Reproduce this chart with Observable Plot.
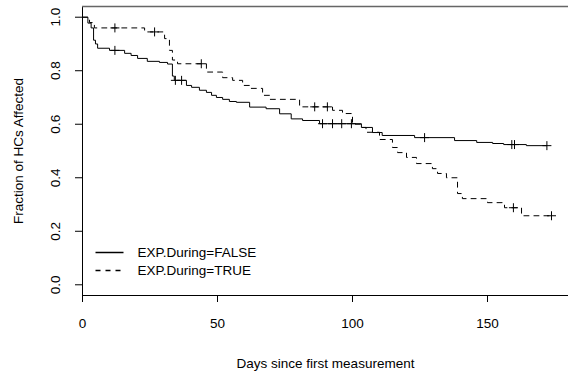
<!DOCTYPE html>
<html><head><meta charset="utf-8">
<script src="https://cdn.jsdelivr.net/npm/d3@7"></script>
<script src="https://cdn.jsdelivr.net/npm/@observablehq/plot@0.6"></script>
<style>
html,body{margin:0;padding:0;background:#fff;}
#chart svg{display:block;}
</style></head><body><div id="chart"></div>
<script>
// Kaplan–Meier step curves (time in days, survival fraction)
const falseTimes = [0, 2.0, 3.2, 4.1, 4.8, 5.6, 10, 15.6, 18, 20.4, 24, 28.5, 31.5, 33.3, 34, 38.5, 40.4, 43.3, 45.9, 47.8, 49.6, 51.9, 54.4, 57, 61.9, 68, 73, 77.3, 81.5, 87.8, 103.3, 107.4, 111, 123, 137.8, 146, 151.9, 156, 164.4, 172];
const falseSurv  = [1, 0.978, 0.96, 0.914, 0.90, 0.884, 0.876, 0.865, 0.857, 0.846, 0.835, 0.831, 0.825, 0.78, 0.764, 0.745, 0.738, 0.727, 0.719, 0.708, 0.70, 0.693, 0.685, 0.682, 0.664, 0.658, 0.639, 0.62, 0.614, 0.602, 0.588, 0.569, 0.558, 0.55, 0.539, 0.532, 0.528, 0.524, 0.52, 0.52];
const falseCensor = [12, 34.4, 36.7, 88.9, 92.6, 96, 99.6, 126.7, 159, 160, 172];

const trueTimes = [0, 2.6, 4.4, 23, 30.4, 32.2, 33.3, 35.2, 45.9, 51.9, 55.6, 59.3, 61.9, 66.7, 69.3, 80.4, 92.6, 96.3, 100, 103.3, 105, 110, 114.8, 116.7, 120, 123.7, 129.6, 131.5, 134.8, 138.9, 140.7, 150, 156.3, 162.6, 174];
const trueSurv  = [1, 0.98, 0.96, 0.945, 0.92, 0.876, 0.84, 0.826, 0.795, 0.774, 0.764, 0.745, 0.734, 0.708, 0.693, 0.665, 0.652, 0.64, 0.60, 0.588, 0.57, 0.543, 0.513, 0.494, 0.476, 0.453, 0.434, 0.416, 0.40, 0.341, 0.322, 0.307, 0.288, 0.258, 0.258];
const trueCensor = [12, 26.7, 44, 86, 90.7, 159.6, 173.7];

const seriesNames = ["EXP.During=FALSE", "EXP.During=TRUE"];
const xTicks = [0, 50, 100, 150];
const yTicks = [0, 0.2, 0.4, 0.6, 0.8, 1.0];
const xTitle = "Days since first measurement";
const yTitle = "Fraction of HCs Affected";

function stepValue(times, surv, t) {
  let v = surv[0];
  for (let i = 0; i < times.length; i++) if (times[i] <= t) v = surv[i];
  return v;
}
const falseRows = falseTimes.map((t, i) => ({t, s: falseSurv[i]}));
const trueRows = trueTimes.map((t, i) => ({t, s: trueSurv[i]}));
const censorRows = [
  ...falseCensor.map(t => ({t, s: stepValue(falseTimes, falseSurv, t)})),
  ...trueCensor.map(t => ({t, s: stepValue(trueTimes, trueSurv, t)}))
];

const plus = {draw(ctx, size) { const r = Math.sqrt(size / Math.PI); ctx.moveTo(-r, 0); ctx.lineTo(r, 0); ctx.moveTo(0, -r); ctx.lineTo(0, r); }};
const hline = {draw(ctx, size) { const r = Math.sqrt(size / Math.PI); ctx.moveTo(-r, 0); ctx.lineTo(r, 0); }};

const font = '"Liberation Sans", Arial, Helvetica, sans-serif';
const fs = 13.5;

const chart = Plot.plot({
  width: 568,
  height: 375,
  marginLeft: 82,
  marginRight: 0,
  marginTop: 6,
  marginBottom: 80,
  style: {fontFamily: font, fontSize: fs + "px", color: "black", background: "white"},
  x: {domain: [0, 180], label: null},
  y: {domain: [-0.04, 1.04], label: null},
  marks: [
    Plot.ruleX([0], {stroke: "black"}),
    Plot.ruleY([-0.04], {stroke: "black"}),
    Plot.ruleY([1.04], {stroke: "#666", strokeWidth: 1.5}),
    Plot.axisX({ticks: xTicks, tickSize: 7, tickPadding: 16, tickFormat: d => String(d), label: null, fontSize: fs, fill: "black"}),
    Plot.axisY({ticks: yTicks, tickSize: 7, tickFormat: () => "", label: null}),
    Plot.text(yTicks, {y: d => d, text: d => d.toFixed(1), frameAnchor: "left", dx: -27, rotate: -90, textAnchor: "middle", lineAnchor: "middle", fontSize: fs, fill: "black"}),
    Plot.text([yTitle], {text: d => d, frameAnchor: "left", dx: -64, rotate: -90, textAnchor: "middle", lineAnchor: "middle", fontSize: fs, fill: "black"}),
    Plot.text([xTitle], {text: d => d, frameAnchor: "bottom", dy: 68, textAnchor: "middle", lineAnchor: "middle", fontSize: fs, fill: "black"}),
    Plot.line(falseRows, {x: "t", y: "s", curve: "step-after", stroke: "black", strokeWidth: 1}),
    Plot.line(trueRows, {x: "t", y: "s", curve: "step-after", stroke: "black", strokeWidth: 1, strokeDasharray: "5,5"}),
    Plot.dot(censorRows, {x: "t", y: "s", symbol: plus, r: 4.5, stroke: "black", fill: "none", strokeWidth: 1}),
    // legend
    Plot.dot([seriesNames[0]], {frameAnchor: "bottom-left", dx: 27, dy: -43, symbol: hline, r: 14, stroke: "black", fill: "none"}),
    Plot.dot([seriesNames[1]], {frameAnchor: "bottom-left", dx: 27, dy: -25, symbol: hline, r: 14, stroke: "black", fill: "none", strokeDasharray: "5,5"}),
    Plot.text([seriesNames[0]], {text: d => d, frameAnchor: "bottom-left", dx: 55, dy: -43, textAnchor: "start", lineAnchor: "middle", fontSize: fs, fill: "black"}),
    Plot.text([seriesNames[1]], {text: d => d, frameAnchor: "bottom-left", dx: 55, dy: -25, textAnchor: "start", lineAnchor: "middle", fontSize: fs, fill: "black"})
  ]
});

document.getElementById("chart").appendChild(chart);
</script>
</body></html>
